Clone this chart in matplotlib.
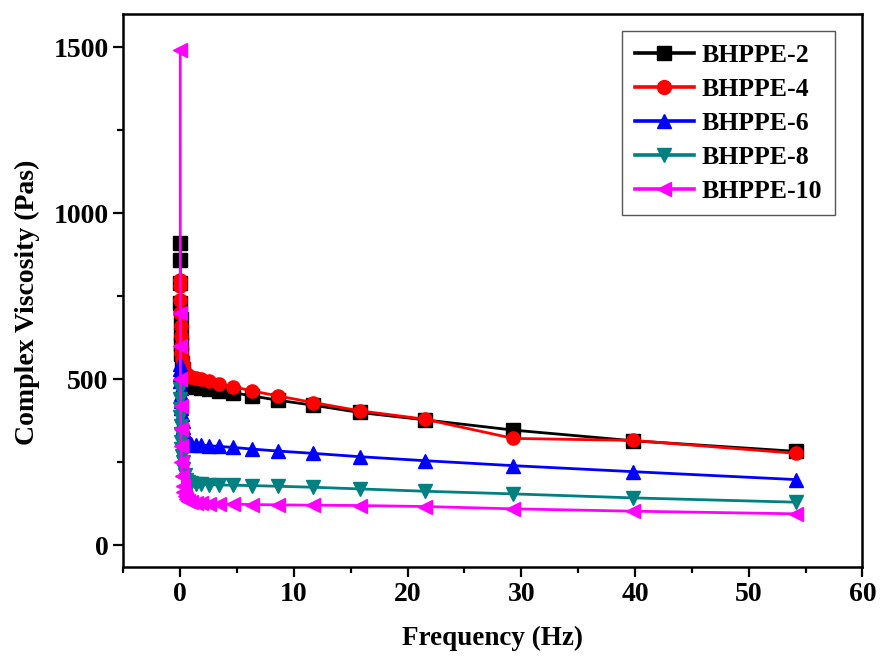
import numpy as np
import matplotlib.pyplot as plt
from matplotlib.ticker import MultipleLocator

plt.rcParams['font.family'] = ['Liberation Serif', 'DejaVu Serif']
plt.rcParams['font.weight'] = 'bold'

# frequency sweep (Hz), low to high
freq = [0.0136, 0.0185, 0.0251, 0.0341, 0.0464, 0.0631, 0.0858, 0.117, 0.158,
        0.215, 0.293, 0.398, 0.541, 0.736, 1.0, 1.36, 1.85, 2.51, 3.41, 4.64,
        6.31, 8.58, 11.7, 15.8, 21.5, 29.3, 39.8, 54.2]

bhppe2 = [910, 860, 790, 730, 680, 640, 605, 575, 550, 530, 515, 500, 492, 485,
          480, 476, 473, 470, 466, 460, 450, 437, 422, 400, 378, 347, 315, 283]
bhppe4 = [800, 780, 740, 700, 660, 630, 600, 580, 560, 545, 530, 520, 516, 512,
          508, 505, 500, 495, 487, 478, 465, 450, 430, 405, 380, 322, 316, 277]
bhppe6 = [545, 530, 515, 495, 475, 455, 435, 415, 395, 375, 355, 335, 320, 310,
          305, 303, 302, 300, 298, 295, 290, 284, 277, 267, 255, 240, 222, 198]
bhppe8 = [470, 440, 410, 385, 360, 335, 310, 290, 270, 250, 230, 212, 198, 190,
          188, 185, 184, 183, 182, 181, 180, 178, 175, 170, 163, 155, 143, 130]
bhppe10 = [1490, 700, 600, 500, 420, 350, 300, 250, 210, 180, 160, 148, 140, 135,
           131, 128, 127, 126, 125, 124, 123, 122, 121, 120, 117, 110, 103, 95]

series = [
    ('BHPPE-2', bhppe2, 'black', 's'),
    ('BHPPE-4', bhppe4, '#ff0000', 'o'),
    ('BHPPE-6', bhppe6, '#0000ff', '^'),
    ('BHPPE-8', bhppe8, '#008080', 'v'),
    ('BHPPE-10', bhppe10, '#ff00ff', '<'),
]

fig = plt.figure(figsize=(8.8, 6.57), dpi=100)
ax = fig.add_axes([0.14, 0.137, 0.84, 0.842])

for name, vals, c, m in series:
    ax.plot(freq, vals, color=c, marker=m, markersize=9.5, linewidth=2.0, label=name)

ax.set_xlim(-5, 60)
ax.set_ylim(-65, 1600)
ax.xaxis.set_major_locator(MultipleLocator(10))
ax.xaxis.set_minor_locator(MultipleLocator(5))
ax.yaxis.set_major_locator(MultipleLocator(500))
ax.yaxis.set_minor_locator(MultipleLocator(250))
ax.tick_params(which='major', direction='out', length=7, width=1.6, labelsize=20)
ax.tick_params(which='minor', direction='out', length=4, width=1.6)
for s in ax.spines.values():
    s.set_linewidth(1.8)

ax.set_xlabel('Frequency (Hz)', fontsize=19.5, fontweight='bold', labelpad=14)
ax.set_ylabel('Complex Viscosity (Pas)', fontsize=20, fontweight='bold')
ax.yaxis.set_label_coords(-0.113, 0.478)

leg = ax.legend(loc='upper right', bbox_to_anchor=(0.963, 0.968), borderaxespad=0,
                fontsize=18.5, fancybox=False, edgecolor='#555555', framealpha=1,
                handlelength=2.3, handletextpad=0.3, labelspacing=0.42,
                borderpad=0.5)
leg.get_frame().set_linewidth(1.0)
for line in leg.get_lines():
    line.set_linewidth(2.6)
    line.set_markersize(10)

fig.savefig('out.png', dpi=100)
